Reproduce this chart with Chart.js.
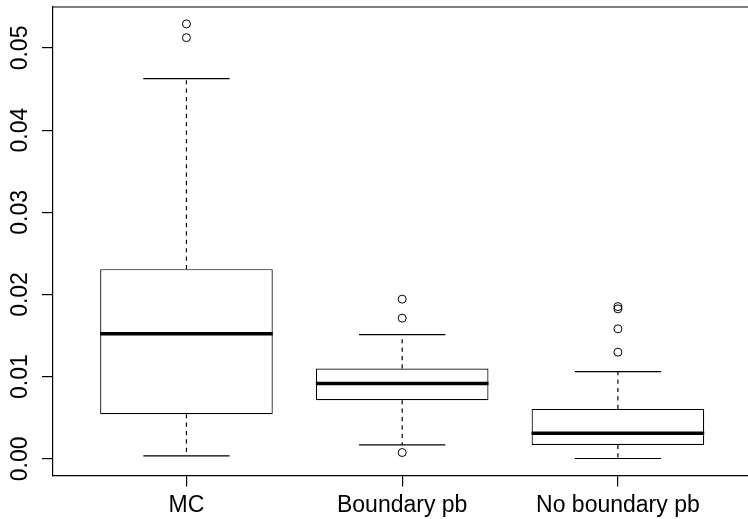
<!DOCTYPE html>
<html>
<head>
<meta charset="utf-8">
<script src="https://cdn.jsdelivr.net/npm/chart.js@4"></script>
<style>
  html, body { margin: 0; padding: 0; background: #fff; overflow: hidden; }
  #wrap { position: relative; width: 748px; height: 519px; }
</style>
</head>
<body>
<div id="wrap"><canvas id="chartBox" width="748" height="519"></canvas></div>
<script>
// ===== Boxplot MC / Boundary pb / No boundary pb =====

const categorias = ['MC', 'Boundary pb', 'No boundary pb'];
const minimos  = [0.00036, 0.00170, 0.00004];
const q1s      = [0.00544, 0.00714, 0.00170];
const medianas = [0.01521, 0.00916, 0.00313];
const q3s      = [0.02308, 0.01099, 0.00608];
const maximos  = [0.04627, 0.01512, 0.01062];
const outliers = [
  [0.05292, 0.05125],
  [0.01943, 0.01712, 0.00077],
  [0.01853, 0.01825, 0.01582, 0.01298],
];
const yTicks = [0, 0.01, 0.02, 0.03, 0.04, 0.05];

const FONTE = 'Liberation Sans, Arial, Helvetica, sans-serif';
const TAM_FONTE = 23;

// whiskers, staples, medians and frame drawn from the scales
const boxplotExtras = {
  id: 'boxplotExtras',
  beforeDatasetsDraw(chart) {
    const { ctx, scales: { y } } = chart;
    const boxes = chart.getDatasetMeta(0).data;
    ctx.save();
    ctx.strokeStyle = '#000';
    ctx.lineWidth = 1.2;
    boxes.forEach((bar, i) => {
      const cx = bar.x;
      const half = bar.width / 4;
      ctx.setLineDash([4.2, 4.2]);
      ctx.beginPath();
      ctx.moveTo(cx, y.getPixelForValue(q3s[i]));
      ctx.lineTo(cx, y.getPixelForValue(maximos[i]));
      ctx.moveTo(cx, y.getPixelForValue(q1s[i]));
      ctx.lineTo(cx, y.getPixelForValue(minimos[i]));
      ctx.stroke();
      ctx.setLineDash([]);
      ctx.beginPath();
      ctx.moveTo(cx - half, y.getPixelForValue(maximos[i]));
      ctx.lineTo(cx + half, y.getPixelForValue(maximos[i]));
      ctx.moveTo(cx - half, y.getPixelForValue(minimos[i]));
      ctx.lineTo(cx + half, y.getPixelForValue(minimos[i]));
      ctx.stroke();
    });
    ctx.restore();
  },
  afterDatasetDraw(chart, args) {
    if (args.index !== 0) return;
    const { ctx, scales: { y } } = chart;
    ctx.save();
    ctx.strokeStyle = '#000';
    ctx.lineWidth = 3.5;
    args.meta.data.forEach((bar, i) => {
      const py = y.getPixelForValue(medianas[i]);
      ctx.beginPath();
      ctx.moveTo(bar.x - bar.width / 2, py);
      ctx.lineTo(bar.x + bar.width / 2, py);
      ctx.stroke();
    });
    ctx.restore();
  },
  afterDraw(chart) {
    const { ctx, chartArea: a, scales: { y } } = chart;
    ctx.save();
    ctx.strokeStyle = '#000';
    ctx.lineWidth = 1.2;
    // top of the frame (its right side falls just outside the picture)
    ctx.beginPath();
    ctx.moveTo(a.left, a.top);
    ctx.lineTo(a.right, a.top);
    ctx.stroke();
    // y labels, rotated like R's las = 0
    ctx.fillStyle = '#000';
    ctx.font = TAM_FONTE + 'px ' + FONTE;
    ctx.textAlign = 'center';
    ctx.textBaseline = 'alphabetic';
    yTicks.forEach(v => {
      ctx.save();
      ctx.translate(26.8, y.getPixelForValue(v));
      ctx.rotate(-Math.PI / 2);
      ctx.fillText(v.toFixed(2), 0, 0);
      ctx.restore();
    });
    ctx.restore();
  },
};

new Chart(document.getElementById('chartBox'), {
  type: 'bar',
  data: {
    datasets: [
      {
        label: 'box',
        data: categorias.map((c, i) => ({ x: i + 1, y: [q1s[i], q3s[i]] })),
        backgroundColor: '#fff',
        borderColor: '#000',
        borderWidth: 1.2,
        borderSkipped: false,
        categoryPercentage: 0.8,
        barPercentage: 1,
      },
      {
        type: 'scatter',
        label: 'outliers',
        data: outliers.flatMap((arr, i) => arr.map(v => ({ x: i + 1, y: v }))),
        pointStyle: 'circle',
        pointRadius: 4,
        backgroundColor: 'rgba(0,0,0,0)',
        borderColor: '#000',
        borderWidth: 1,
      },
    ],
  },
  options: {
    responsive: false,
    animation: false,
    devicePixelRatio: 1,
    layout: { autoPadding: false, padding: { top: 7, right: 0, left: 0, bottom: 0 } },
    plugins: { legend: { display: false }, tooltip: { enabled: false } },
    scales: {
      x: {
        type: 'linear',
        offset: false,
        min: 0.38,
        max: 3.603,
        afterBuildTicks: s => { s.ticks = categorias.map((c, i) => ({ value: i + 1 })); },
        afterFit: s => { s.height = 43.3; s.paddingLeft = 0; s.paddingRight = 0; },
        ticks: {
          autoSkip: false,
          maxRotation: 0,
          padding: 5.5,
          color: '#000',
          font: { family: FONTE, size: TAM_FONTE },
          callback: v => categorias[v - 1],
        },
        grid: { offset: false, drawOnChartArea: false, drawTicks: true, tickLength: 10.7, color: '#000', lineWidth: 1.2 },
        border: { display: true, color: '#000', width: 1.2 },
      },
      y: {
        type: 'linear',
        min: -0.00205,
        max: 0.05498,
        afterBuildTicks: s => { s.ticks = yTicks.map(v => ({ value: v })); },
        afterFit: s => { s.width = 52.7; },
        ticks: { display: false },
        grid: { drawOnChartArea: false, drawTicks: true, tickLength: 10.7, color: '#000', lineWidth: 1.2 },
        border: { display: true, color: '#000', width: 1.2 },
      },
    },
  },
  plugins: [boxplotExtras],
});
</script>
</body>
</html>
